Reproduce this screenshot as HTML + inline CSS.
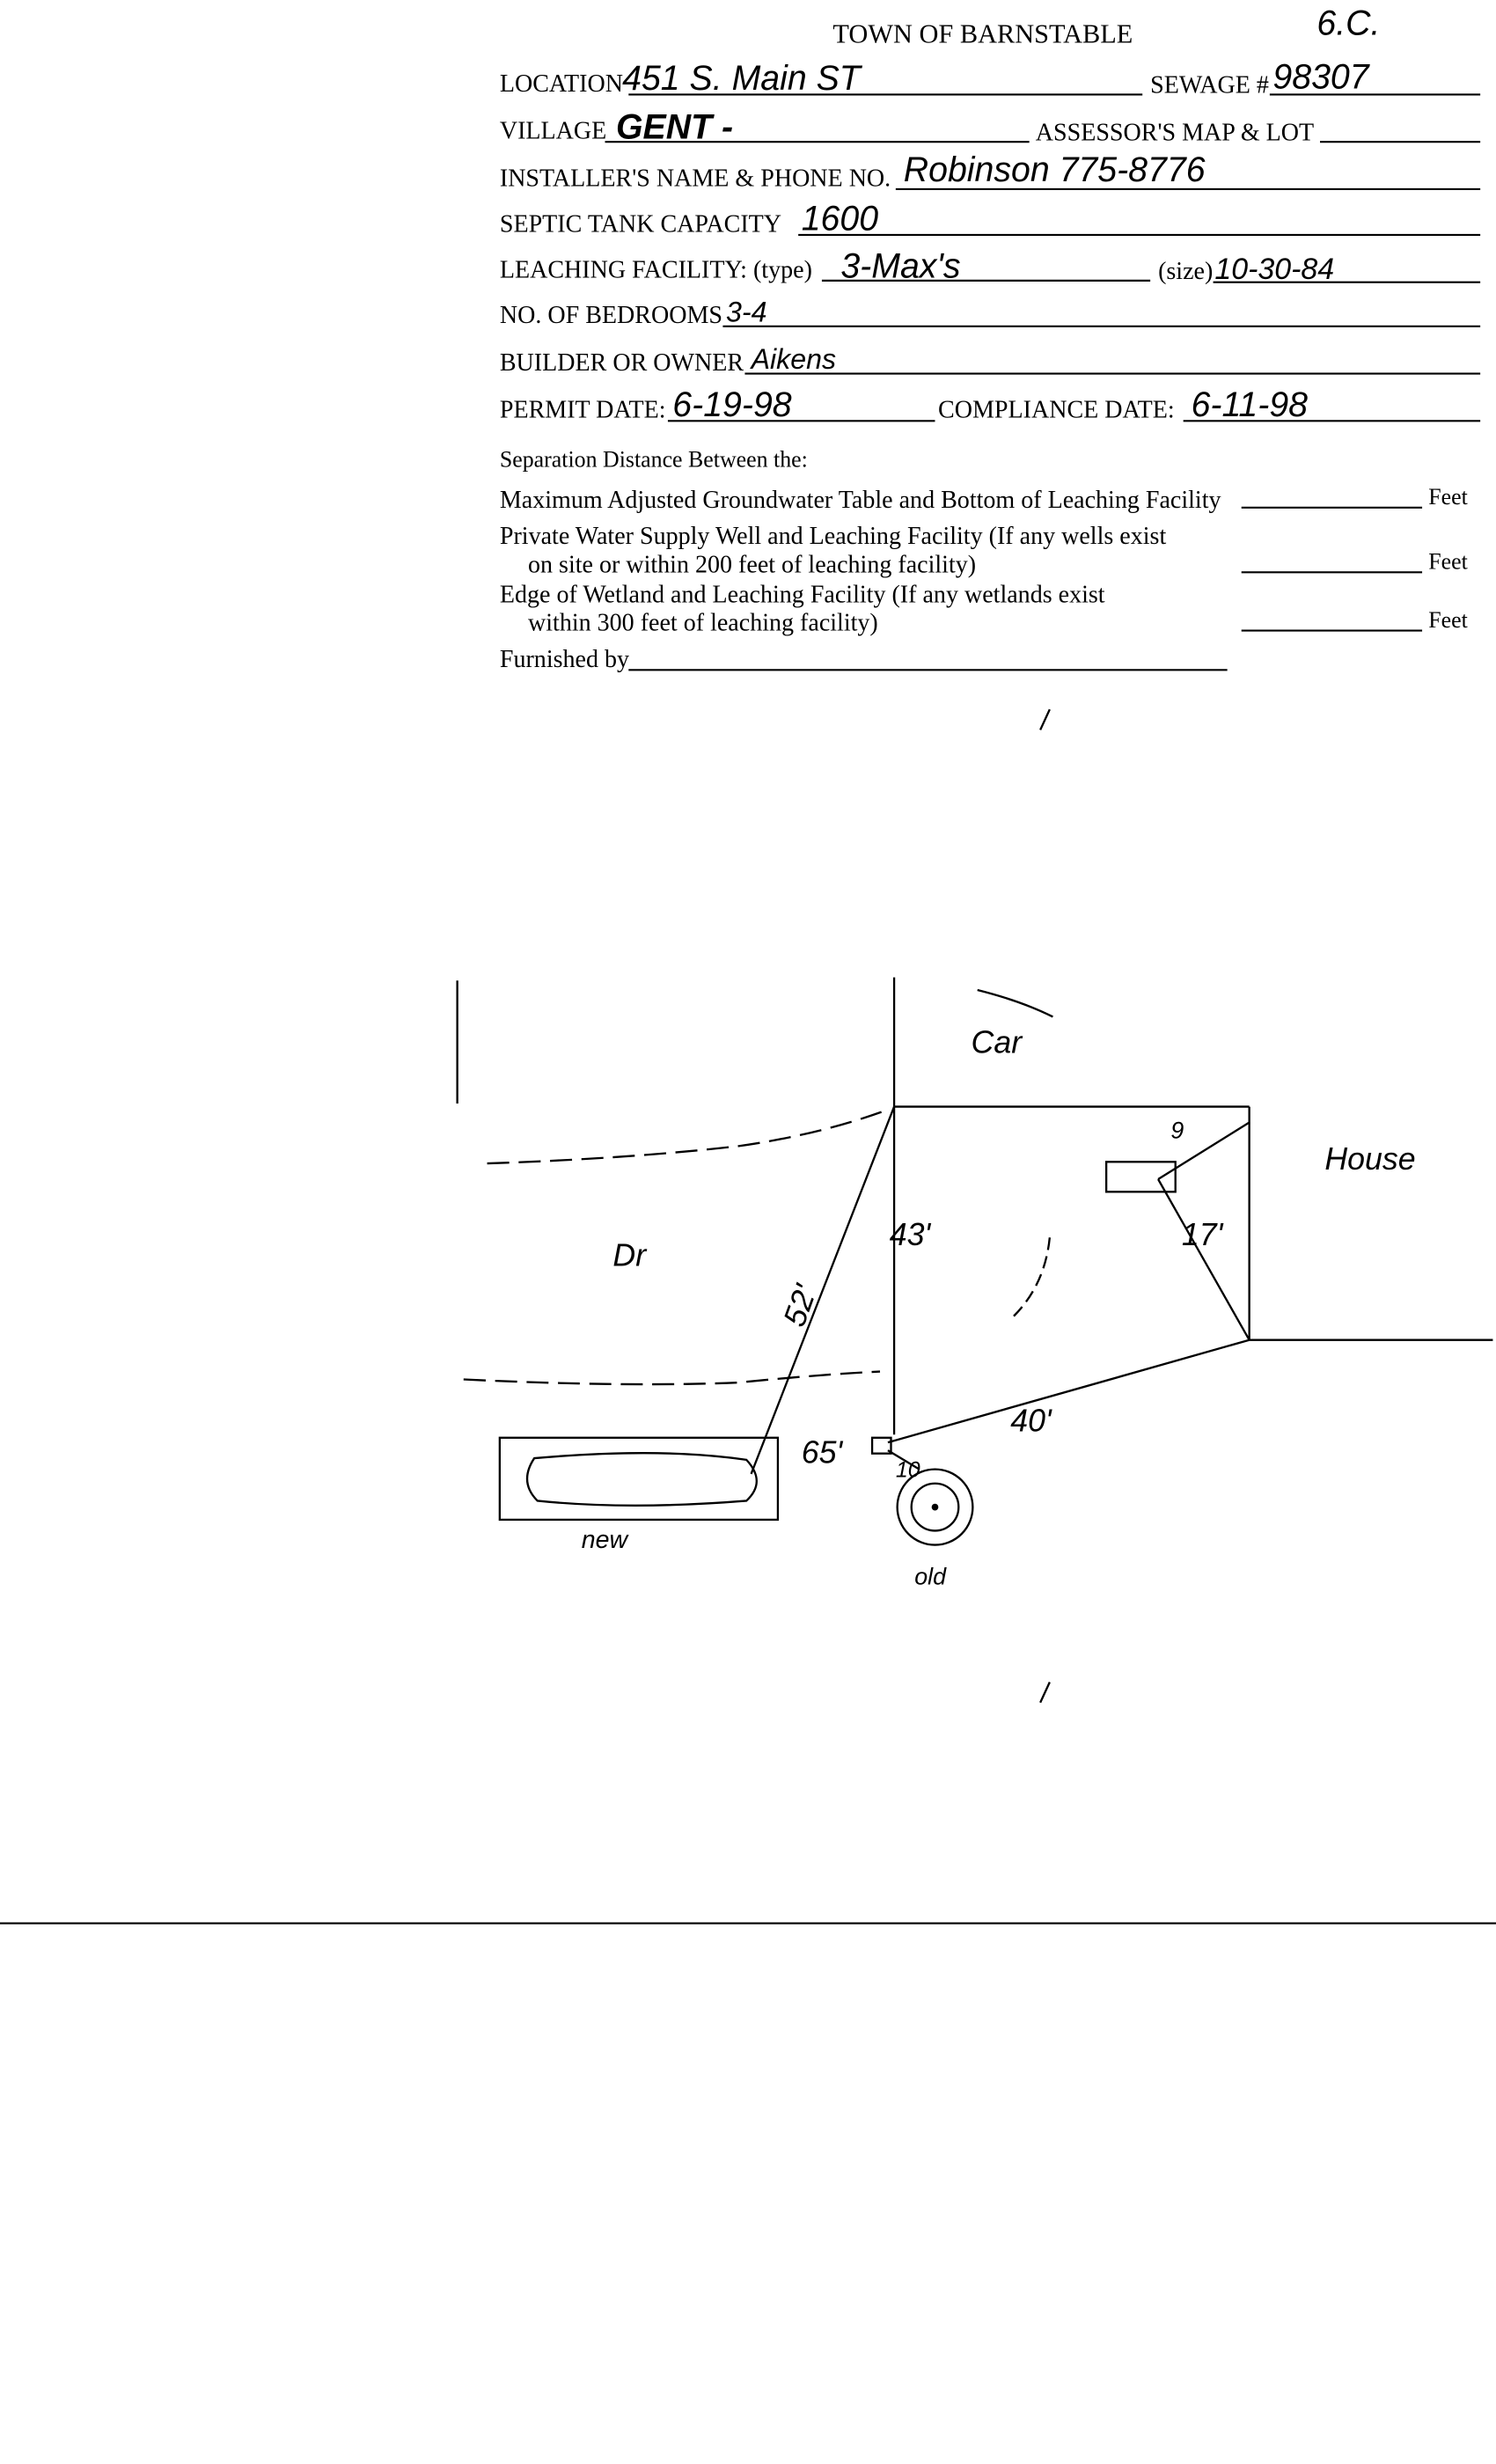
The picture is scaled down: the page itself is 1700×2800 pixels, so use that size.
<!DOCTYPE html>
<html><head><meta charset="utf-8"><style>
html,body{margin:0;padding:0;background:#fff}
svg{display:block}
text{font-family:"Liberation Serif",serif;fill:#000}
.h{font-family:"Liberation Sans",sans-serif;font-style:italic}
</style></head><body>
<svg width="1700" height="2800" viewBox="0 0 952 1563" preserveAspectRatio="none" xmlns="http://www.w3.org/2000/svg">
<rect width="952" height="1563" fill="#fff"/>
<g font-size="15.7">
<text x="530" y="27" font-size="17">TOWN OF BARNSTABLE</text>
<text x="318" y="58">LOCATION</text>
<text x="732" y="59">SEWAGE #</text>
<text x="318" y="88">VILLAGE</text>
<text x="659" y="89">ASSESSOR'S MAP &amp; LOT</text>
<text x="318" y="118">INSTALLER'S NAME &amp; PHONE NO.</text>
<text x="318" y="147">SEPTIC TANK CAPACITY</text>
<text x="318" y="176">LEACHING FACILITY: (type)</text>
<text x="737" y="177">(size)</text>
<text x="318" y="205">NO. OF BEDROOMS</text>
<text x="318" y="235">BUILDER OR OWNER</text>
<text x="318" y="265">PERMIT DATE:</text>
<text x="597" y="265">COMPLIANCE DATE:</text>
<text x="318" y="296" font-size="14.5">Separation Distance Between the:</text>
<text x="318" y="322">Maximum Adjusted Groundwater Table and Bottom of Leaching Facility</text>
<text x="909" y="320" font-size="14.5">Feet</text>
<text x="318" y="345">Private Water Supply Well and Leaching Facility  (If any wells exist</text>
<text x="336" y="363">on site or within 200 feet of leaching facility)</text>
<text x="909" y="361" font-size="14.5">Feet</text>
<text x="318" y="382">Edge of Wetland and Leaching Facility (If any wetlands exist</text>
<text x="336" y="400">within 300 feet of leaching facility)</text>
<text x="909" y="398" font-size="14.5">Feet</text>
<text x="318" y="423">Furnished by</text>
</g>
<g stroke="#000" stroke-width="1.2" fill="none">
<line x1="400" y1="60" x2="727" y2="60"/>
<line x1="808" y1="60" x2="942" y2="60"/>
<line x1="385" y1="90" x2="655" y2="90"/>
<line x1="840" y1="90" x2="942" y2="90"/>
<line x1="570" y1="120" x2="942" y2="120"/>
<line x1="508" y1="149" x2="942" y2="149"/>
<line x1="523" y1="178" x2="732" y2="178"/>
<line x1="772" y1="179" x2="942" y2="179"/>
<line x1="460" y1="207" x2="942" y2="207"/>
<line x1="474" y1="237" x2="942" y2="237"/>
<line x1="425" y1="267" x2="595" y2="267"/>
<line x1="753" y1="267" x2="942" y2="267"/>
<line x1="790" y1="322" x2="905" y2="322"/>
<line x1="790" y1="363" x2="905" y2="363"/>
<line x1="790" y1="400" x2="905" y2="400"/>
<line x1="400" y1="425" x2="781" y2="425"/>
<line x1="0" y1="1220" x2="952" y2="1220"/>
</g>
<g class="h" font-size="22">
<text x="838" y="22" class="h">6.C.</text>
<text x="396" y="57" class="h">451 S. Main ST</text>
<text x="810" y="56" class="h">98307</text>
<text x="392" y="88" class="h" font-weight="bold">GENT -</text>
<text x="575" y="115" class="h">Robinson 775-8776</text>
<text x="510" y="146" class="h">1600</text>
<text x="535" y="176" class="h">3-Max's</text>
<text x="773" y="177" class="h" font-size="19">10-30-84</text>
<text x="462" y="204" class="h" font-size="18">3-4</text>
<text x="478" y="234" class="h" font-size="18">Aikens</text>
<text x="428" y="264" class="h">6-19-98</text>
<text x="758" y="264" class="h">6-11-98</text>
</g>
<g stroke="#000" stroke-width="1.3" fill="none">
<line x1="668" y1="450" x2="662" y2="463"/>
<line x1="668" y1="1067" x2="662" y2="1080"/>
<line x1="291" y1="622" x2="291" y2="700"/>
<line x1="569" y1="620" x2="569" y2="910"/>
<line x1="569" y1="702" x2="795" y2="702"/>
<line x1="795" y1="702" x2="795" y2="850"/>
<line x1="795" y1="850" x2="950" y2="850"/>
<line x1="569" y1="702" x2="478" y2="935"/>
<line x1="795" y1="850" x2="565" y2="915"/>
<line x1="795" y1="850" x2="737" y2="748"/>
<line x1="737" y1="748" x2="795" y2="712"/>
<path d="M310 738 Q400 735 470 727 Q520 720 562 705" stroke-dasharray="14 6"/>
<path d="M295 875 Q400 880 470 877 Q520 872 560 870" stroke-dasharray="14 6"/>
<path d="M668 785 Q665 815 645 835" stroke-dasharray="8 4"/>
<rect x="318" y="912" width="177" height="52"/>
<path d="M340 925 Q420 918 475 926 Q488 940 475 952 Q400 958 342 952 Q330 940 340 925Z"/>
<rect x="704" y="737" width="44" height="19"/>
<rect x="555" y="912" width="12" height="10"/>
<line x1="565" y1="920" x2="585" y2="932"/>
<circle cx="595" cy="956" r="24"/>
<circle cx="595" cy="956" r="15"/>
<circle cx="595" cy="956" r="1.5" fill="#000"/>
<path d="M622 628 Q650 635 670 645"/>
</g>
<g class="h" font-size="20">
<text x="618" y="668" class="h">Car</text>
<text x="843" y="742" class="h">House</text>
<text x="390" y="803" class="h">Dr</text>
<text x="566" y="790" class="h">43'</text>
<text x="495" y="840" class="h" transform="rotate(-70 505 830)">52'</text>
<text x="752" y="790" class="h">17'</text>
<text x="745" y="722" class="h" font-size="15">9</text>
<text x="510" y="928" class="h">65'</text>
<text x="643" y="908" class="h">40'</text>
<text x="570" y="937" class="h" font-size="14">10</text>
<text x="370" y="982" class="h" font-size="16">new</text>
<text x="582" y="1005" class="h" font-size="15">old</text>
</g>
</svg>
</body></html>
